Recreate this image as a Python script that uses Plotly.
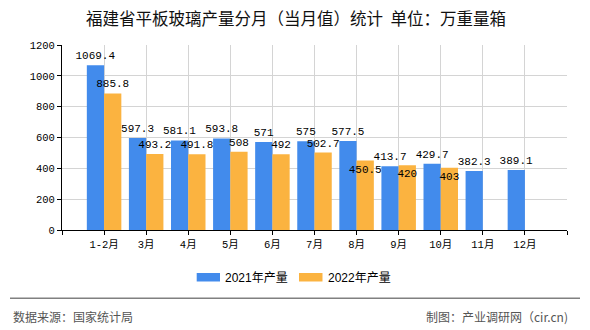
import plotly.graph_objects as go

categories = ["1-2月", "3月", "4月", "5月", "6月", "7月", "8月", "9月", "10月", "11月", "12月"]
prod_2021 = [1069.4, 597.3, 581.1, 593.8, 571, 575, 577.5, 413.7, 429.7, 382.3, 389.1]
prod_2022 = [885.8, 493.2, 491.8, 508, 492, 502.7, 450.5, 420, 403, None, None]
series_names = ["2021年产量", "2022年产量"]
colors = ["#428BEC", "#FBB340"]
y_ticks = [0, 200, 400, 600, 800, 1000, 1200]

# where each value label sits (style, not data)
label_pos_2021 = ["outside"] * 11
label_pos_2022 = ["outside"] * 6 + ["inside"] * 3 + ["outside"] * 2

title_text = "福建省平板玻璃产量分月（当月值）统计  单位：万重量箱"
source_text = "数据来源：国家统计局"
credit_text = "制图：产业调研网（cir.cn)"

W, H = 590, 330
ML, MR, MT, MB = 62, 23, 45, 100
PW, PH = W - ML - MR, H - MT - MB

def px_x(px):
    return (px - ML) / PW

def px_y(py):
    return (H - MB - py) / PH

xs = list(range(len(categories)))
mono = "Liberation Mono, Noto Sans CJK SC, monospace"
cjk = "Noto Sans CJK SC, sans-serif"

fig = go.Figure()
for name, vals, col, pos in zip(series_names, [prod_2021, prod_2022], colors,
                                [label_pos_2021, label_pos_2022]):
    fig.add_trace(go.Bar(
        x=xs, y=vals, name=name, marker=dict(color=col, line=dict(width=0)),
        text=[("" if v is None else f"{v:g}") for v in vals],
        textposition=pos, textangle=0, insidetextanchor="end", constraintext="none", cliponaxis=False,
        textfont=dict(family=mono, size=11, color="#000000"),
        insidetextfont=dict(family=mono, size=11, color="#000000"),
        outsidetextfont=dict(family=mono, size=11, color="#000000"),
        showlegend=False,
    ))

tickvals = list(range(-1, len(categories) + 1))
ticktext = [""] + categories + [""]

fig.update_layout(
    width=W, height=H,
    margin=dict(l=ML, r=MR, t=MT, b=MB, pad=0),
    paper_bgcolor="white", plot_bgcolor="white",
    barmode="group", bargap=0.18, bargroupgap=0,
    title=dict(text=title_text, x=296 / W, xanchor="center", y=1 - 19.5 / H, yanchor="middle",
               font=dict(family=cjk, size=16.5, color="#111111")),
    xaxis=dict(range=[-1, len(categories)], tickmode="array", tickvals=tickvals, ticktext=ticktext,
               showgrid=True, gridcolor="#d4d4d4", gridwidth=1,
               showline=True, linecolor="#000000", linewidth=1,
               ticks="outside", ticklen=4, tickcolor="#000000",
               tickfont=dict(family=mono, size=10.5, color="#000000"), zeroline=False),
    yaxis=dict(range=[0, 1200], tickmode="array", tickvals=y_ticks,
               showgrid=True, gridcolor="#d4d4d4", gridwidth=1,
               showline=True, linecolor="#000000", linewidth=1,
               ticks="outside", ticklen=4, tickcolor="#000000",
               tickfont=dict(family=mono, size=10.5, color="#000000"), zeroline=False),
)

# legend (swatches + labels)
legend_items = [(196.7, 220, 223), (299, 322.5, 326)]
for (x0, x1, tx), name, col in zip(legend_items, series_names, colors):
    fig.add_shape(type="rect", xref="paper", yref="paper",
                  x0=px_x(x0), x1=px_x(x1), y0=px_y(281.5), y1=px_y(273),
                  fillcolor=col, line=dict(width=0))
    fig.add_annotation(xref="paper", yref="paper", x=px_x(tx), y=px_y(277.5),
                       xanchor="left", yanchor="middle", showarrow=False,
                       text=name, font=dict(family="Liberation Sans, Noto Sans CJK SC", size=12, color="#000000"))

# footer
fig.add_shape(type="line", xref="paper", yref="paper",
              x0=px_x(10), x1=px_x(580), y0=px_y(298.3), y1=px_y(298.3),
              line=dict(color="#808080", width=1.5))
fig.add_annotation(xref="paper", yref="paper", x=px_x(11), y=px_y(316),
                   xanchor="left", yanchor="middle", showarrow=False,
                   text=source_text, font=dict(family=cjk, size=12, color="#555555"))
fig.add_annotation(xref="paper", yref="paper", x=px_x(570), y=px_y(316),
                   xanchor="right", yanchor="middle", showarrow=False,
                   text=credit_text, font=dict(family=cjk, size=12, color="#555555"))

fig.write_html("out.html")
